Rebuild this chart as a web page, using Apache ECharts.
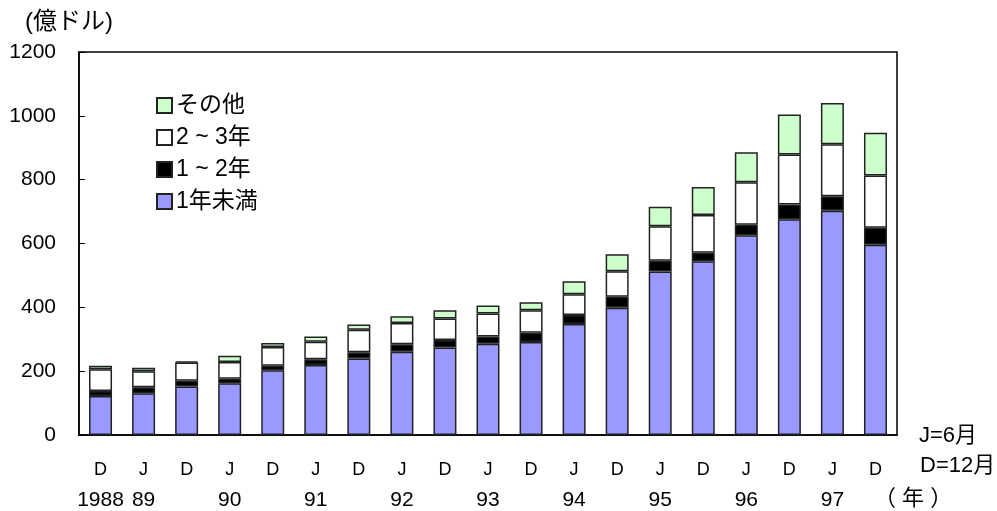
<!DOCTYPE html>
<html><head><meta charset="utf-8">
<script src="https://cdn.jsdelivr.net/npm/echarts@6/dist/echarts.min.js"></script>
<style>html,body{margin:0;padding:0;background:#fff}#c{width:997px;height:511px}</style>
</head><body><div id="c"></div>
<script>
const monthLabels = ['D','J','D','J','D','J','D','J','D','J','D','J','D','J','D','J','D','J','D'];
const yearLabels = ['1988','89','','90','','91','','92','','93','','94','','95','','96','','97',''];
const under1y = [122,131,152,162,203,219,240,261,274,286,291,348,399,512,544,626,676,703,596];
const y1to2 = [16,19,18,14,14,18,19,23,24,23,29,28,34,34,27,33,46,45,53];
const y2to3 = [68,50,57,53,59,55,71,67,67,72,71,65,80,108,118,133,157,163,164];
const others = [11,11,3,19,12,17,16,21,26,25,25,41,53,61,88,94,125,129,134];
const seriesNames = ['1年未満','1 ~ 2年','2 ~ 3年','その他'];
const yTicks = {min:0, max:1200, interval:200};

const FONT = '"Liberation Sans", Arial, "Noto Sans CJK JP", sans-serif';
const colors = ['#9999FF','#000000','#FFFFFF','#CCFFCC'];
const datas = [under1y, y1to2, y2to3, others];

const chart = echarts.init(document.getElementById('c'), null, {renderer:'canvas'});
chart.setOption({
  animation:false,
  textStyle:{fontFamily:FONT, color:'#000'},
  grid:{left:79, right:100, top:52, bottom:76, show:true, borderColor:'#000', borderWidth:1.5, backgroundColor:'transparent'},
  legend:{
    orient:'vertical', left:151, top:89, itemWidth:15, itemHeight:15, itemGap:9,
    data:['その他','2 ~ 3年','1 ~ 2年','1年未満'],
    textStyle:{fontSize:23, lineHeight:22, fontFamily:FONT, color:'#000', padding:[0,0,0,-1]},
    icon:'rect'
  },
  xAxis:{
    type:'category', data:monthLabels,
    axisLine:{lineStyle:{color:'#000', width:1.5}},
    axisTick:{inside:true, length:6, lineStyle:{color:'#000', width:1}},
    axisLabel:{
      interval:0, margin:20,
      formatter:(v,i)=>'{m|'+monthLabels[i]+'}\n{y|'+(yearLabels[i]||' ')+'}',
      rich:{
        m:{fontSize:18, lineHeight:30, fontFamily:FONT, color:'#000'},
        y:{fontSize:21, lineHeight:30, fontFamily:FONT, color:'#000'}
      }
    }
  },
  yAxis:{
    type:'value', min:yTicks.min, max:yTicks.max, interval:yTicks.interval,
    axisLine:{show:true, lineStyle:{color:'#000', width:1.5}},
    axisTick:{show:true, inside:true, length:6, lineStyle:{color:'#000'}},
    splitLine:{show:false},
    axisLabel:{fontSize:21, margin:23, color:'#000', fontFamily:FONT, formatter:v=>String(v)}
  },
  graphic:[
    {type:'text', left:25, top:10, style:{text:'(億ドル)', font:'24px '+FONT, fill:'#000'}},
    {type:'text', left:919, top:425, style:{text:'J=6月', font:'22px '+FONT, fill:'#000'}},
    {type:'text', left:920, top:455, style:{text:'D=12月', font:'22px '+FONT, fill:'#000'}},
    {type:'text', left:874, top:488, style:{text:'（ 年 ）', font:'22px '+FONT, fill:'#000'}}
  ],
  series: seriesNames.map((n,k)=>({
    name:n, type:'bar', stack:'total', barWidth:23, data:datas[k],
    itemStyle:{color:colors[k], borderColor:'#222', borderWidth:1.5}
  }))
});
</script></body></html>
